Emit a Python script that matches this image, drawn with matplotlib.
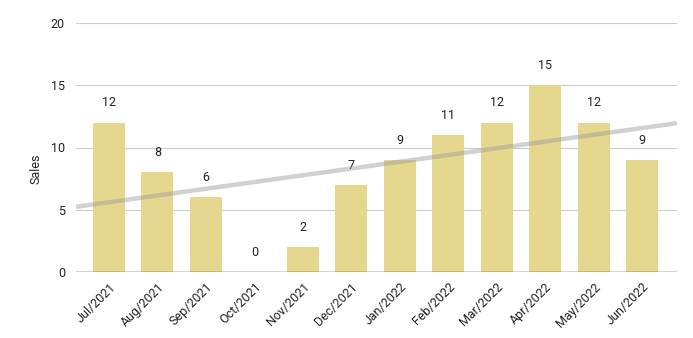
import numpy as np
import matplotlib.pyplot as plt

# monthly sales
months = ['Jul/2021', 'Aug/2021', 'Sep/2021', 'Oct/2021', 'Nov/2021', 'Dec/2021',
          'Jan/2022', 'Feb/2022', 'Mar/2022', 'Apr/2022', 'May/2022', 'Jun/2022']
sales = [12, 8, 6, 0, 2, 7, 9, 11, 12, 15, 12, 9]

plt.rcParams['font.family'] = ['Roboto', 'DejaVu Sans']

fig = plt.figure(figsize=(6.93, 3.38), dpi=100)
ax = fig.add_axes([76 / 693, 66 / 338, 601 / 693, 249 / 338])

x = np.arange(len(months))
ax.bar(x, sales, width=0.66, color='#e6d78f', zorder=2)

# value labels
for xi, v in zip(x, sales):
    ax.annotate(str(v), (xi, v), xytext=(0, 9.5), textcoords='offset points',
                ha='center', va='bottom', fontsize=9, color='#222222')

# linear trendline
xlim = (-0.68, 11.72)
slope, intercept = np.polyfit(x, sales, 1)
tx = np.array(xlim)
ax.plot(tx, slope * tx + intercept, color='#999999', alpha=0.45, lw=3.2,
        solid_capstyle='butt', zorder=3)

ax.set_xlim(*xlim)
ax.set_ylim(0, 20)
ax.set_yticks([0, 5, 10, 15, 20])
ax.yaxis.grid(True, color='#cccccc', lw=0.8, zorder=0)
ax.axhline(0, color='#333333', lw=1, zorder=4)

ax.set_xticks(x)
ax.set_xticklabels(months, rotation=45, ha='right', rotation_mode='anchor',
                   fontsize=9, color='#222222')
ax.tick_params(axis='y', labelsize=9, labelcolor='#222222', length=0, pad=8)
ax.tick_params(axis='x', length=0, pad=6)

for s in ax.spines.values():
    s.set_visible(False)

ax.set_ylabel('Sales', fontsize=9, color='#222222', va='center')
ax.yaxis.set_label_coords(-0.066, 0.415)

fig.savefig('out.png', dpi=100)
